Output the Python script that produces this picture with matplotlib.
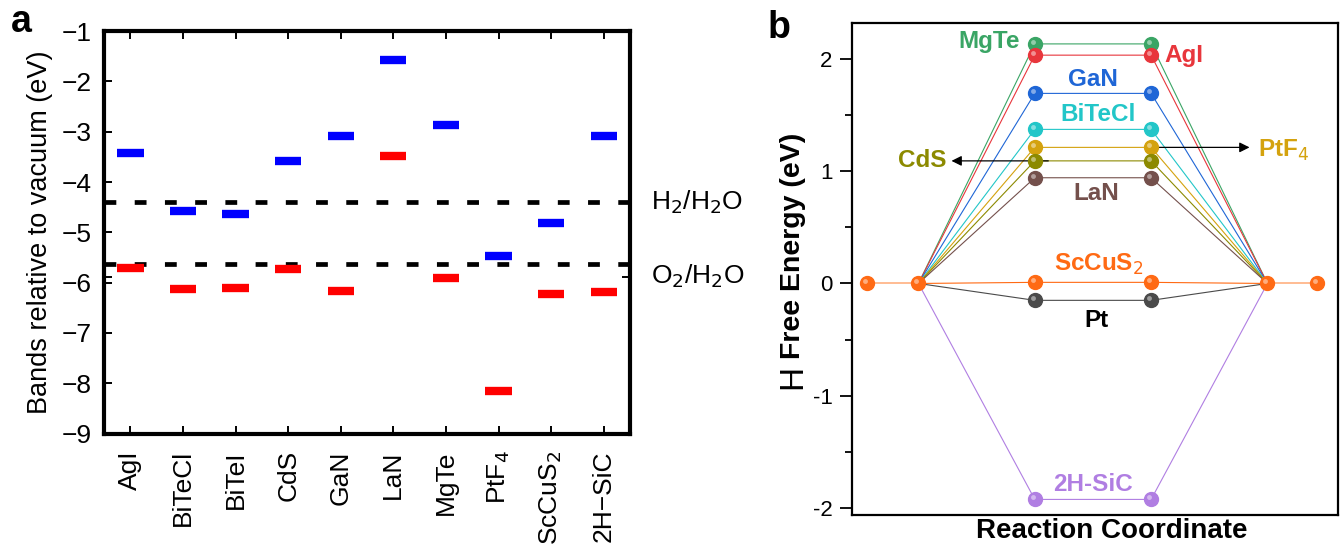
import matplotlib.pyplot as plt
import matplotlib.transforms as mtransforms

plt.rcParams['font.family'] = ['Liberation Sans', 'DejaVu Sans']

# ---- panel a data: band edges vs vacuum
materials = ['AgI', 'BiTeCl', 'BiTeI', 'CdS', 'GaN', 'LaN', 'MgTe', r'PtF$_4$', r'ScCuS$_2$', '2H\u2212SiC']
cbm = [-3.43, -4.57, -4.64, -3.58, -3.08, -1.57, -2.87, -5.48, -4.81, -3.08]
vbm = [-5.70, -6.12, -6.10, -5.72, -6.17, -3.49, -5.90, -8.15, -6.23, -6.19]
redox = [-4.40, -5.63]
redox_labels = [r'H$_2$/H$_2$O', r'O$_2$/H$_2$O']
redox_label_y = [-4.40, -5.88]

# ---- panel b data: H adsorption free energy
names_b = ['MgTe', 'AgI', 'GaN', 'BiTeCl', 'PtF$_4$', 'CdS', 'LaN', 'ScCuS$_2$', 'Pt', '2H-SiC']
dG = [2.13, 2.03, 1.69, 1.37, 1.21, 1.09, 0.94, 0.01, -0.15, -1.92]
colors_b = ['#3aa565', '#e8363c', '#1f66d6', '#22c6c8', '#d4a20e', '#8c8a00',
            '#74504c', '#ff6a14', '#4a4a4a', '#b07ee2']
xpos = [0, 0.44, 1.44, 2.44, 3.44, 3.87]   # reaction coordinate stations

fig = plt.figure(figsize=(13.41, 5.46), dpi=100)

############ panel a
ax = fig.add_axes([0.0776, 0.206, 0.3922, 0.737])
idx = list(range(len(materials)))
for i in idx:
    ax.plot([i - 0.25, i + 0.25], [cbm[i], cbm[i]], color='#0000ff', lw=6, solid_capstyle='butt')
    ax.plot([i - 0.25, i + 0.25], [vbm[i], vbm[i]], color='#ff0000', lw=6, solid_capstyle='butt')
for r in redox:
    ax.axhline(r, color='black', lw=3.4, dashes=(2.5, 3.9), zorder=1)
ax.set_xlim(-0.5, 9.5)
ax.set_ylim(-9, -1)
ax.set_yticks(range(-9, 0))
ax.set_yticklabels(['\u2212%d' % abs(v) for v in range(-9, 0)], fontsize=19)
ax.set_xticks(idx)
ax.set_xticklabels(materials, rotation=90, fontsize=19)
ax.tick_params(direction='in', top=True, length=6, width=1.4, pad=9)
ax.tick_params(axis='x', pad=12)
for s in ax.spines.values():
    s.set_linewidth(3)
ax.set_ylabel('Bands relative to vacuum (eV)', fontsize=19.5, labelpad=6)
ax2 = ax.twinx()
ax2.set_ylim(-9, -1)
ax2.set_yticks(redox_label_y)
ax2.set_yticklabels([])
ax2.tick_params(direction='in', length=6, width=1.4, left=True, right=True)
trans = mtransforms.blended_transform_factory(ax.transAxes, ax.transData)
for yl, lab in zip(redox_label_y, redox_labels):
    ax.text(1.04, yl, lab, transform=trans, fontsize=19, va='center', ha='left')
fig.text(0.016, 0.96, 'a', fontsize=27, fontweight='bold', ha='center', va='center')

############ panel b
bx = fig.add_axes([0.6353, 0.0575, 0.3624, 0.9004])
hl = mtransforms.offset_copy(bx.transData, fig=fig, x=-1.5, y=1.5, units='points')
for e, c in zip(dG, colors_b):
    bx.plot([xpos[1], xpos[2], xpos[3], xpos[4]], [0, e, e, 0], color=c, lw=0.8, zorder=2)
    bx.plot([xpos[2], xpos[3]], [e, e], 'o', color=c, ms=10, lw=0, zorder=4)
    bx.plot([xpos[2], xpos[3]], [e, e], 'o', color='white', alpha=0.45, ms=3.5,
            mec='none', lw=0, zorder=5, transform=hl)
bx.plot([xpos[0], xpos[1]], [0, 0], color='#ffb080', lw=1.2, zorder=2)
bx.plot([xpos[4], xpos[5]], [0, 0], color='#ffb080', lw=1.2, zorder=2)
bx.plot([xpos[0], xpos[1], xpos[4], xpos[5]], [0, 0, 0, 0], 'o', color='#ff6a14',
        ms=10, zorder=6, lw=0)
bx.plot([xpos[0], xpos[1], xpos[4], xpos[5]], [0, 0, 0, 0], 'o', color='white', alpha=0.45,
        ms=3.5, mec='none', zorder=7, lw=0, transform=hl)

bx.set_xlim(-0.132, 4.046)
bx.set_ylim(-2.055, 2.316)
bx.set_xticks([])
bx.set_yticks([-2, -1, 0, 1, 2])
bx.set_yticks([-1.5, -0.5, 0.5, 1.5], minor=True)
bx.set_yticklabels(['-2', '-1', '0', '1', '2'], fontsize=16)
bx.tick_params(axis='y', which='major', length=9, width=1.3, pad=5)
bx.tick_params(axis='y', which='minor', length=5, width=1.3)
for s in bx.spines.values():
    s.set_linewidth(1.6)
fig.text(0.829, 0.027, 'Reaction Coordinate', fontsize=20, fontweight='bold',
         ha='center', va='center')

# material labels
lab_pos = {
    'MgTe': (1.05, 2.15, 'center'),
    'AgI': (2.55, 2.03, 'left'),
    'GaN': (1.94, 1.81, 'center'),
    'BiTeCl': (1.98, 1.50, 'center'),
    'PtF$_4$': (3.36, 1.18, 'left'),
    'CdS': (0.68, 1.09, 'right'),
    'LaN': (1.97, 0.80, 'center'),
    'ScCuS$_2$': (1.99, 0.17, 'center'),
    'Pt': (1.97, -0.33, 'center'),
    '2H-SiC': (1.94, -1.79, 'center'),
}
for n, c in zip(names_b, colors_b):
    x, y, ha = lab_pos[n]
    col = 'black' if n == 'Pt' else c
    bx.text(x, y, n, color=col, fontsize=17.5, fontweight='bold', ha=ha, va='center')
bx.annotate('', xy=(0.70, dG[5]), xytext=(1.58, dG[5]),
            arrowprops=dict(arrowstyle='-|>', color='black', lw=0.9, mutation_scale=15))
bx.annotate('', xy=(3.31, dG[4]), xytext=(2.42, dG[4]),
            arrowprops=dict(arrowstyle='-|>', color='black', lw=0.9, mutation_scale=15))

fig.text(0.591, 0.31, 'H', fontsize=24, rotation=90, ha='center', va='center')
fig.text(0.591, 0.55, 'Free Energy (eV)', fontsize=20.5, fontweight='bold', rotation=90,
         ha='center', va='center')
fig.text(0.581, 0.948, 'b', fontsize=27, fontweight='bold', ha='center', va='center')

fig.savefig('out.png', dpi=100)
